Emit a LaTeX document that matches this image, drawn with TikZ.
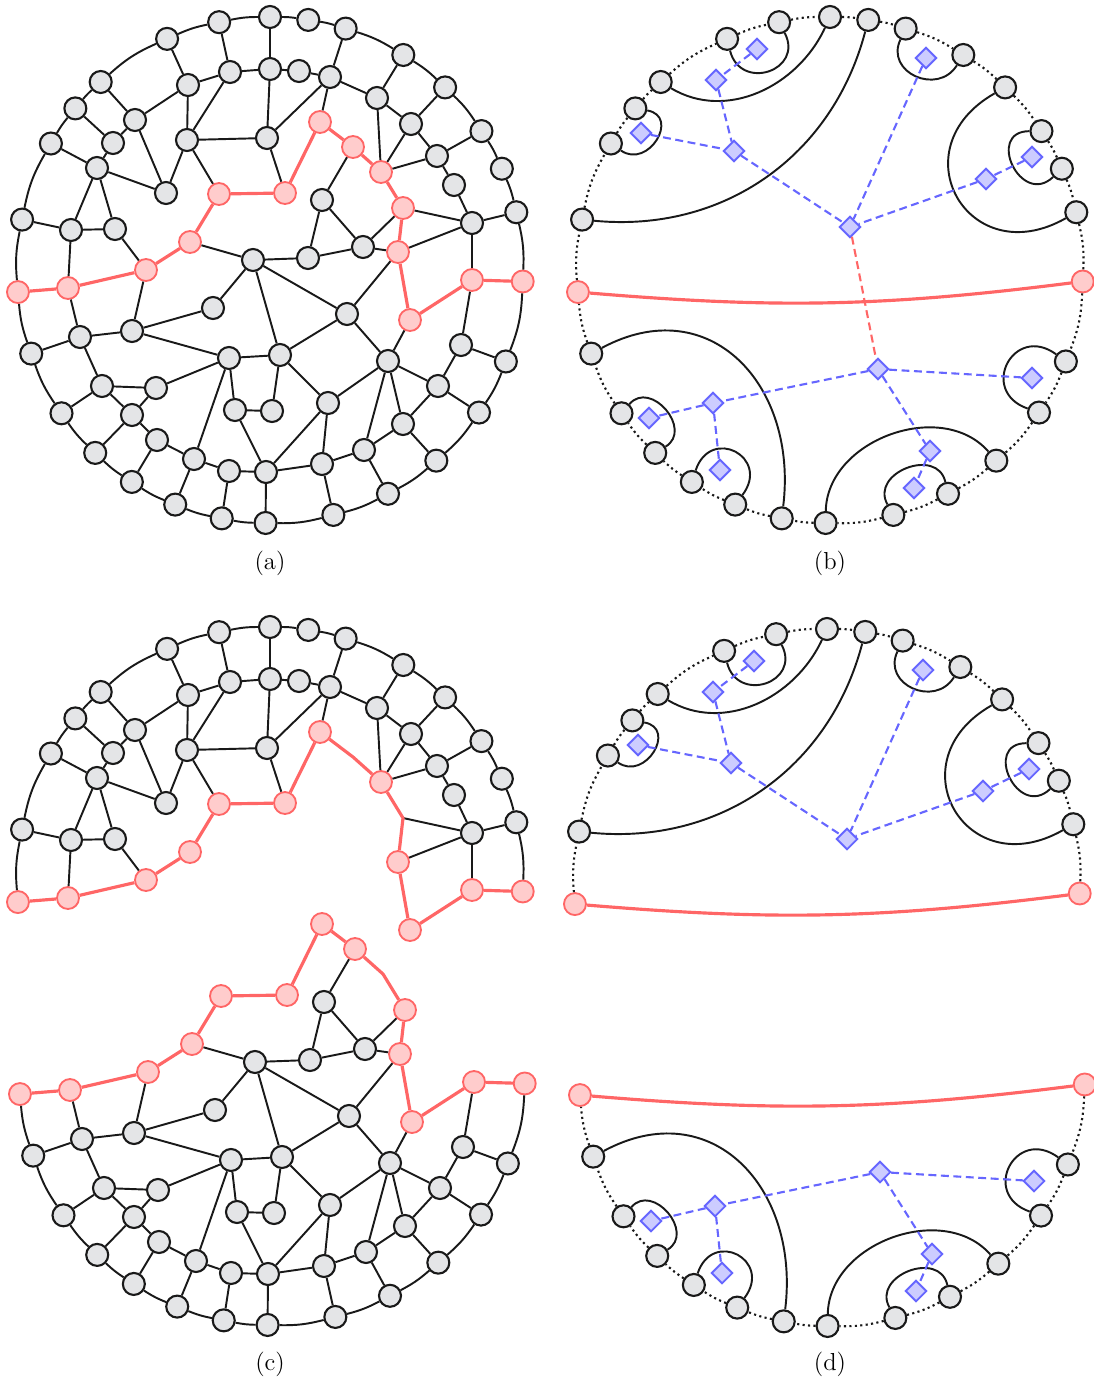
\documentclass[tikz,border=0pt]{standalone}
\usepackage{tikz}
\usetikzlibrary{shapes.geometric}
\definecolor{nodegray}{HTML}{E4E5E7}
\definecolor{cutred}{HTML}{FF6666}
\definecolor{cutpink}{HTML}{FFCCCC}
\definecolor{dualblue}{HTML}{6666FF}
\definecolor{dualfill}{HTML}{CCCCFF}
\tikzstyle{vtx} = [draw=black!90, fill=nodegray, circle, line width=1.2pt, minimum size=0.44cm, inner sep=0pt]
\tikzstyle{cutvtx} = [draw=cutred, fill=cutpink, circle, line width=1.05pt, minimum size=0.44cm, inner sep=0pt]
\tikzstyle{link} = [draw=black!90, line width=1.1pt]
\tikzstyle{cutline} = [draw=cutred, line width=1.8pt, line join=round]
\tikzstyle{rimline} = [draw=black!90, line width=1.2pt, dash pattern=on 1.2pt off 1.9pt]
\tikzstyle{facenode} = [draw=dualblue, fill=dualfill, diamond, line width=1.1pt, minimum size=0.43cm, inner sep=0pt]
\tikzstyle{dualline} = [draw=dualblue, line width=1.2pt, dash pattern=on 4.5pt off 2.6pt]
\tikzstyle{dualcut} = [draw=cutred, line width=1.2pt, dash pattern=on 4.5pt off 2.6pt]
\tikzstyle{sublabel} = [font=\fontsize{14}{16}\selectfont]

% angles of the boundary vertices, and the cut path
\def\oangs{{185,168.5,150,140.3,132,114,101.6,90,81.3,72.6,58.2,46.2,33.3,23.6,13.2,-2.6,-21.2,-34.3,-48.9,-62.2,-75.5,-91,-101,-112,-123.1,-133.7,-145.5,-160.7}}
\def\cutx{{68,146,190,219,285,320,353,381,403,398,410,472}}
\def\cuty{{288,270,242,194,193,122,147,172,208,252,320,280}}

\newcommand\ringnodes[4]{%
  \foreach \i in {#1,...,#2} {
    \pgfmathsetmacro\ang{\oangs[\i-1]}
    \node[#4] (o\i) at ([shift={#3}]\ang:253) {};
  }}
\newcommand\rimrange[3]{%
  \foreach \i in {#1,...,#2} {
    \pgfmathtruncatemacro\j{mod(\i,28)+1}
    \pgfmathsetmacro\bnd{mod(\oangs[\i-1]-\oangs[\j-1]+720,360)/2}
    \draw[#3] (o\i) to[bend left=\bnd] (o\j);
  }}
\newcommand\cutnodes[1]{%
  \foreach \i in {#1} {
    \pgfmathsetmacro\px{\cutx[\i-1]}
    \pgfmathsetmacro\py{\cuty[\i-1]}
    \node[cutvtx] (r\i) at (\px,-\py) {};
  }}
\newcommand\cutbends[1]{%
  \foreach \i in {#1} {
    \pgfmathsetmacro\px{\cutx[\i-1]}
    \pgfmathsetmacro\py{\cuty[\i-1]}
    \coordinate (r\i) at (\px,-\py);
  }}
\newcommand\cutpath{\draw[cutline] (o1) -- (r1) -- (r2) -- (r3) -- (r4) -- (r5) -- (r6) -- (r7) -- (r8) -- (r9) -- (r10) -- (r11) -- (r12) -- (o16);}

% upper side of the graph
\newcommand\topnodes{%
  \node[vtx] (t1) at (230,-72) {};
  \node[vtx] (t2) at (188,-85) {};
  \node[vtx] (t3) at (135,-120) {};
  \node[vtx] (t4) at (113,-143) {};
  \node[vtx] (t5) at (97,-168) {};
  \node[vtx] (t6) at (187,-140) {};
  \node[vtx] (t7) at (166,-193) {};
  \node[vtx] (t8) at (71,-230) {};
  \node[vtx] (t9) at (115,-229) {};
  \node[vtx] (t10) at (270,-69) {};
  \node[vtx] (t11) at (299,-71) {};
  \node[vtx] (t12) at (330,-77) {};
  \node[vtx] (t13) at (267,-138) {};
  \node[vtx] (t14) at (377,-98) {};
  \node[vtx] (t15) at (411,-124) {};
  \node[vtx] (t16) at (437,-156) {};
  \node[vtx] (t17) at (454,-185) {};
  \node[vtx] (t18) at (472,-223) {};}
\newcommand\topedges{%
  \foreach \u/\v in {o6/t2, o7/t1, o8/t10, t2/t1, t1/t10, t2/t3, t2/t6, t1/t6, t6/t13, t10/t13,
      o5/t3, o4/t4, o3/t5, t3/t4, t4/t5, t3/t7, t5/t7, t6/t7, t5/t8, t5/t9, t8/t9, o2/t8,
      t10/t11, t11/t12, t12/o10, t12/t14, t12/t13, t14/o11, t14/t15, t15/o12, t15/t16,
      t16/o13, t16/t17, t17/t18, t18/o15, t6/r4, t8/r1, t9/r2, t13/r5, t12/r6, t14/r8,
      t15/r8, t16/r8, r9/t18, r10/t18, t18/r12}
    \draw[link] (\u) -- (\v);}

% lower side of the graph
\newcommand\botnodes{%
  \node[vtx] (u1) at (322,-200) {};
  \node[vtx] (u2) at (363,-247) {};
  \node[vtx] (u3) at (308,-258) {};
  \node[vtx] (u4) at (253,-260) {};
  \node[vtx] (u5) at (213,-308) {};
  \node[vtx] (u6) at (347,-314) {};
  \node[vtx] (u7) at (132,-331) {};
  \node[vtx] (u8) at (80,-337) {};
  \node[vtx] (u9) at (229,-358) {};
  \node[vtx] (u10) at (280,-355) {};
  \node[vtx] (u11) at (102,-386) {};
  \node[vtx] (u12) at (156,-388) {};
  \node[vtx] (u13) at (132,-415) {};
  \node[vtx] (u14) at (157,-440) {};
  \node[vtx] (u15) at (194,-459) {};
  \node[vtx] (u16) at (235,-410) {};
  \node[vtx] (u17) at (272,-411) {};
  \node[vtx] (u18) at (229,-471) {};
  \node[vtx] (u19) at (266,-472) {};
  \node[vtx] (u20) at (328,-403) {};
  \node[vtx] (u21) at (388,-361) {};
  \node[vtx] (u22) at (461,-345) {};
  \node[vtx] (u23) at (438,-386) {};
  \node[vtx] (u24) at (403,-424) {};
  \node[vtx] (u25) at (364,-450) {};
  \node[vtx] (u26) at (322,-464) {};}
\newcommand\botedges{%
  \foreach \u/\v in {u1/u2, u1/u3, u2/u3, u3/u4, u4/u5, u4/u6, u4/u10, u5/u7, u8/u7, u8/o28,
      u7/u9, u8/u11, u11/u12, u12/u9, u11/u13, u12/u13, u11/o27, u13/o26, u13/u14, u14/o25,
      u14/u15, u15/u9, u15/o24, u15/u18, u9/u16, u16/u17, u16/u19, u10/u17, u9/u10, u18/u19,
      u18/o23, u19/o22, u6/u10, u6/u21, u10/u20, u19/u20, u20/u21, u20/u26, u21/u23, u21/u24,
      u21/u25, u22/u23, u22/o17, u23/u24, u23/o18, u24/u25, u24/o19, u25/u26, u25/o20,
      u26/u19, u26/o21, u4/r3, u1/r7, u7/r2, u8/r1, u2/r9, u2/r10, u6/r10, u21/r11, u22/r12}
    \draw[link] (\u) -- (\v);}

% chords and dual tree
\newcommand\chordarc[5]{%
  \pgfmathsetmacro\aout{\oangs[#1-1]+180-(#3)}
  \pgfmathsetmacro\ain{\oangs[#2-1]+180+(#4)}
  \draw[link] (o#1) to[out=\aout, in=\ain, looseness=#5] (o#2);}
\newcommand\topchords{%
  \chordarc{2}{9}{-6}{-6}{1}
  \chordarc{5}{8}{-17}{-25}{1}
  \chordarc{6}{7}{10}{16}{1.9}
  \chordarc{3}{4}{5}{30}{1.8}
  \chordarc{10}{11}{8}{0}{1.5}
  \chordarc{12}{15}{16.5}{16.5}{2}
  \chordarc{13}{14}{33}{20}{2.2}}
\newcommand\botchords{%
  \chordarc{23}{28}{-4}{9}{1.3}
  \chordarc{26}{27}{15}{15}{1.5}
  \chordarc{24}{25}{15}{15}{2.3}
  \chordarc{19}{22}{0}{0}{1.05}
  \chordarc{20}{21}{15}{15}{1.5}
  \chordarc{17}{18}{15}{15}{2.2}}
\newcommand\topfaces{%
  \node[facenode] (f1) at (757,-49) {};
  \node[facenode] (f2) at (716,-80) {};
  \node[facenode] (f3) at (641,-133) {};
  \node[facenode] (f4) at (734,-151) {};
  \node[facenode] (f5) at (850,-227) {};
  \node[facenode] (f6) at (926,-58) {};
  \node[facenode] (f7) at (1032,-157) {};
  \node[facenode] (f8) at (986,-179) {};}
\newcommand\botfaces{%
  \node[facenode] (g0) at (878,-369) {};
  \node[facenode] (g1) at (713,-403) {};
  \node[facenode] (g2) at (649,-418) {};
  \node[facenode] (g3) at (720,-470) {};
  \node[facenode] (g4) at (930,-451) {};
  \node[facenode] (g5) at (914,-488) {};
  \node[facenode] (g6) at (1032,-378) {};}
\newcommand\topdual{\foreach \u/\v in {f1/f2, f2/f4, f3/f4, f4/f5, f6/f5, f8/f5, f7/f8} \draw[dualline] (\u) -- (\v);}
\newcommand\botdual{\foreach \u/\v in {g0/g1, g1/g2, g1/g3, g0/g4, g4/g5, g0/g6} \draw[dualline] (\u) -- (\v);}

\begin{document}
\begin{tikzpicture}[x=0.02cm, y=0.02cm]
    \useasboundingbox (0,0) rectangle (1094,-1383);

    % (a) the whole graph with the cut
    \ringnodes{2}{15}{(270,-270)}{vtx}
    \ringnodes{17}{28}{(270,-270)}{vtx}
    \ringnodes{1}{1}{(270,-270)}{cutvtx}
    \ringnodes{16}{16}{(270,-270)}{cutvtx}
    \topnodes
    \botnodes
    \cutnodes{1,2,3,4,5,6,7,8,9,10,11,12}
    \rimrange{1}{28}{link}
    \topedges
    \botedges
    \cutpath

    % (b) chords on the disc and the dual tree
    \ringnodes{2}{15}{(830,-270)}{vtx}
    \ringnodes{17}{28}{(830,-270)}{vtx}
    \ringnodes{1}{1}{(830,-270)}{cutvtx}
    \ringnodes{16}{16}{(830,-270)}{cutvtx}
    \topfaces
    \botfaces
    \rimrange{1}{28}{rimline}
    \topchords
    \botchords
    \draw[cutline] (o1) to[bend right=6] (o16);
    \topdual
    \botdual
    \draw[dualcut] (f5) -- (g0);

    % (c) graph cut in two
    \begin{scope}[shift={(0,-610)}]
        \ringnodes{2}{15}{(270,-270)}{vtx}
        \ringnodes{1}{1}{(270,-270)}{cutvtx}
        \ringnodes{16}{16}{(270,-270)}{cutvtx}
        \topnodes
        \cutnodes{1,2,3,4,5,6,8,10,11,12}
        \cutbends{7,9}
        \rimrange{1}{15}{link}
        \topedges
        \cutpath
    \end{scope}
    \begin{scope}[shift={(2,-802)}]
        \ringnodes{17}{28}{(270,-270)}{vtx}
        \ringnodes{1}{1}{(270,-270)}{cutvtx}
        \ringnodes{16}{16}{(270,-270)}{cutvtx}
        \botnodes
        \cutnodes{1,2,3,4,5,6,7,9,10,11,12}
        \cutbends{8}
        \rimrange{16}{28}{link}
        \botedges
        \cutpath
    \end{scope}

    % (d) disc cut in two
    \begin{scope}[shift={(-3,-612)}]
        \ringnodes{2}{15}{(830,-270)}{vtx}
        \ringnodes{1}{1}{(830,-270)}{cutvtx}
        \ringnodes{16}{16}{(830,-270)}{cutvtx}
        \topfaces
        \rimrange{1}{15}{rimline}
        \topchords
        \draw[cutline] (o1) to[bend right=6] (o16);
        \topdual
    \end{scope}
    \begin{scope}[shift={(2,-803)}]
        \ringnodes{17}{28}{(830,-270)}{vtx}
        \ringnodes{1}{1}{(830,-270)}{cutvtx}
        \ringnodes{16}{16}{(830,-270)}{cutvtx}
        \botfaces
        \rimrange{16}{28}{rimline}
        \botchords
        \draw[cutline] (o1) to[bend right=6] (o16);
        \botdual
    \end{scope}

    % Labels
    \node[sublabel] (lbla) at (270,-563) {(a)};
    \node[sublabel] (lblb) at (830,-563) {(b)};
    \node[sublabel] (lblc) at (270,-1364) {(c)};
    \node[sublabel] (lbld) at (830,-1364) {(d)};
\end{tikzpicture}
\end{document}
